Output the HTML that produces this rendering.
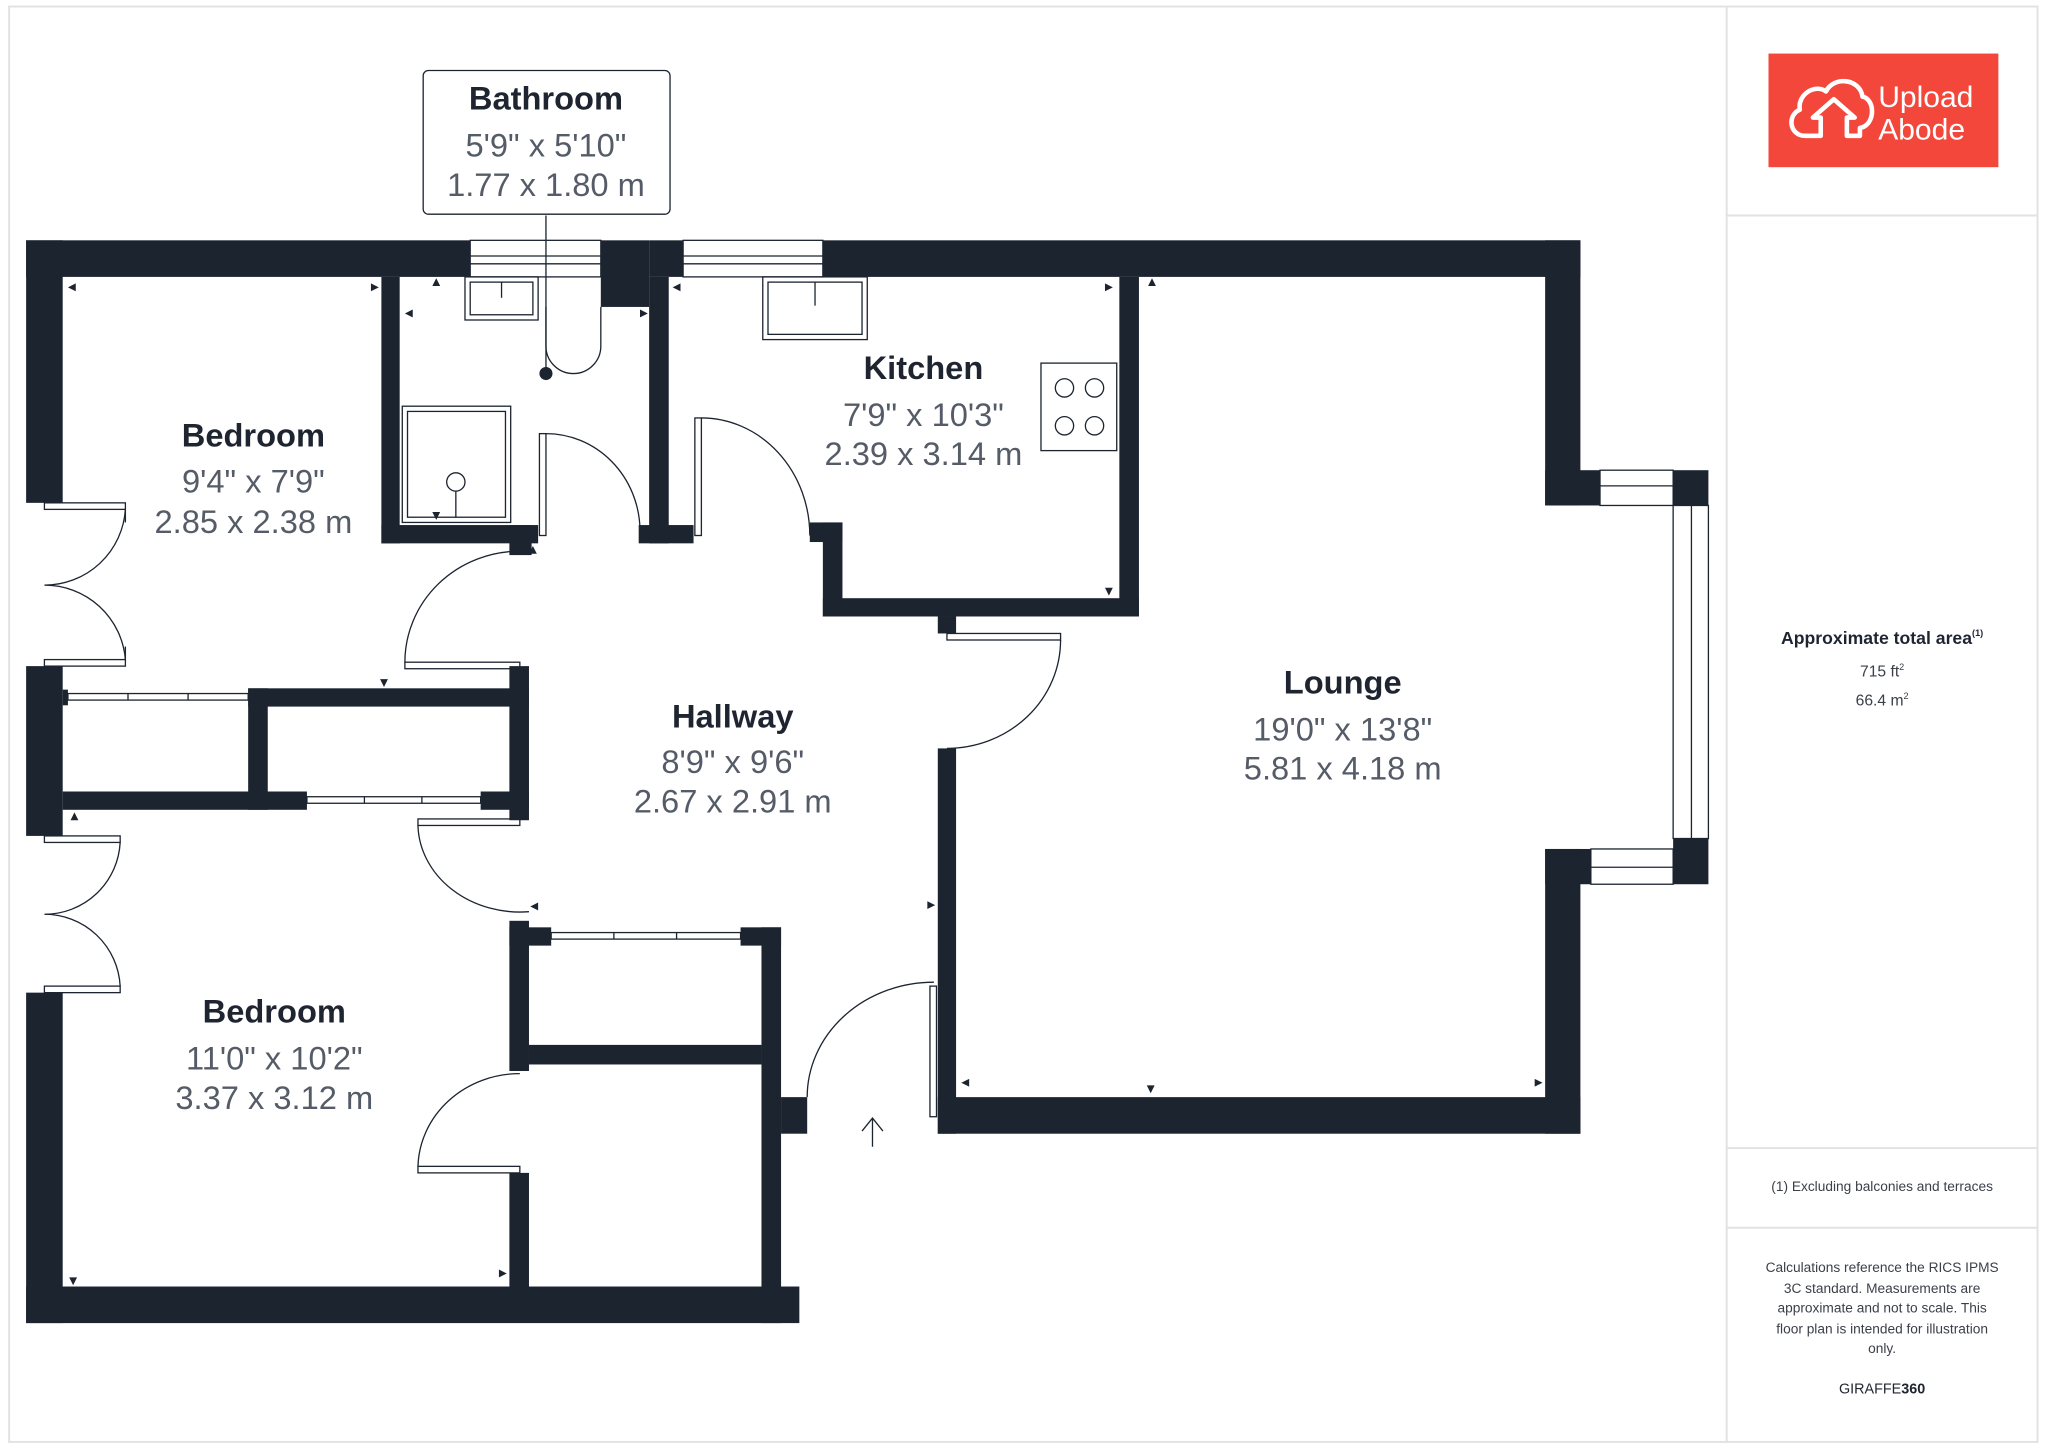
<!DOCTYPE html>
<html><head><meta charset="utf-8"><style>
html,body{margin:0;padding:0;background:#fff;width:2048px;height:1449px;overflow:hidden}
svg{display:block}
text{font-family:"Liberation Sans",sans-serif}
</style></head><body>
<svg width="2048" height="1449" viewBox="0 0 1568 1109.4" preserveAspectRatio="none" xmlns="http://www.w3.org/2000/svg">
<rect x="0" y="0" width="1568" height="1110" fill="#fff"/>
<rect x="7" y="5" width="1553" height="1099" fill="none" stroke="#e2e2e2" stroke-width="1.5"/>
<line x1="1322" y1="5" x2="1322" y2="1104" stroke="#e2e2e2" stroke-width="1.5"/>
<line x1="1322" y1="165" x2="1560" y2="165" stroke="#e2e2e2" stroke-width="1.5"/>
<line x1="1322" y1="879" x2="1560" y2="879" stroke="#e2e2e2" stroke-width="1.5"/>
<line x1="1322" y1="940" x2="1560" y2="940" stroke="#e2e2e2" stroke-width="1.5"/>

<!-- logo -->
<rect x="1354" y="41" width="176" height="87" fill="#f4473b"/>
<path d="M1382 104 C1370 104 1368 88 1378 84 C1376 72 1390 64 1398 70 C1404 58 1424 60 1426 74 C1436 76 1436 96 1424 98 L1424 104 L1414 104 L1414 90 L1420 90 L1404 76 L1388 90 L1394 90 L1394 104 Z" fill="none" stroke="#fff" stroke-width="3.5" stroke-linejoin="round"/>
<text x="1438" y="82" font-size="23" fill="#fff">Upload</text>
<text x="1438" y="107" font-size="23" fill="#fff" font-family="Liberation Serif,serif">Abode</text>

<!-- right panel text -->
<text x="1441" y="493" font-size="13.5" font-weight="bold" fill="#1f2530" text-anchor="middle">Approximate total area<tspan font-size="7" dy="-6">(1)</tspan></text>
<text x="1441" y="518" font-size="12" fill="#3a3f48" text-anchor="middle">715 ft<tspan font-size="7" dy="-5">2</tspan></text>
<text x="1441" y="540" font-size="12" fill="#3a3f48" text-anchor="middle">66.4 m<tspan font-size="7" dy="-5">2</tspan></text>
<text x="1441" y="912" font-size="10.5" fill="#3a3f48" text-anchor="middle">(1) Excluding balconies and terraces</text>
<g font-size="10.5" fill="#3a3f48" text-anchor="middle">
<text x="1441" y="974">Calculations reference the RICS IPMS</text>
<text x="1441" y="990">3C standard. Measurements are</text>
<text x="1441" y="1005">approximate and not to scale. This</text>
<text x="1441" y="1021">floor plan is intended for illustration</text>
<text x="1441" y="1036">only.</text>
</g>
<text x="1441" y="1067" font-size="11" fill="#1f2530" text-anchor="middle">GIRAFFE<tspan font-weight="bold">360</tspan></text>

<!-- walls -->
<g fill="#1c2430">
<rect x="20" y="184" width="340" height="28"/>
<rect x="460" y="184" width="37" height="51"/>
<rect x="497" y="184" width="26" height="28"/>
<rect x="630" y="184" width="580" height="28"/>
<rect x="20" y="184" width="28" height="201"/>
<rect x="20" y="510" width="28" height="130"/>
<rect x="20" y="760" width="28" height="253"/>
<rect x="20" y="985" width="592" height="28"/>
<rect x="292" y="212" width="14" height="204"/>
<rect x="292" y="402" width="120" height="14"/>
<rect x="390" y="402" width="17" height="23"/>
<rect x="497" y="212" width="15" height="204"/>
<rect x="489" y="402" width="42" height="14"/>
<rect x="620" y="400" width="25" height="15"/>
<rect x="630" y="400" width="15" height="72"/>
<rect x="630" y="458" width="242" height="14"/>
<rect x="857" y="212" width="15" height="260"/>
<rect x="718" y="472" width="14" height="13"/>
<rect x="718" y="573" width="14" height="295"/>
<rect x="718" y="840" width="492" height="28"/>
<rect x="1183" y="184" width="27" height="203"/>
<rect x="1183" y="360" width="42" height="27"/>
<rect x="1281" y="360" width="27" height="27"/>
<rect x="1281" y="642" width="27" height="35"/>
<rect x="1183" y="650" width="27" height="218"/>
<rect x="1183" y="650" width="35" height="27"/>
<rect x="190" y="527" width="215" height="14"/>
<rect x="190" y="527" width="15" height="93"/>
<rect x="48" y="606" width="187" height="14"/>
<rect x="368" y="606" width="37" height="14"/>
<rect x="390" y="510" width="15" height="118"/>
<rect x="48" y="528" width="4" height="12"/>
<rect x="390" y="705" width="15" height="115"/>
<rect x="390" y="710" width="32" height="14"/>
<rect x="567" y="710" width="31" height="14"/>
<rect x="583" y="710" width="15" height="303"/>
<rect x="405" y="800" width="178" height="15"/>
<rect x="390" y="898" width="15" height="100"/>
<rect x="598" y="840" width="20" height="28"/>
</g>

<!-- windows -->
<g fill="#fff" stroke="#1c2430" stroke-width="1">
<rect x="360" y="184" width="100" height="28"/>
<rect x="523" y="184" width="107" height="28"/>
<rect x="1225" y="360" width="56" height="27"/>
<rect x="1281" y="387" width="27" height="255"/>
<rect x="1218" y="650" width="63" height="27"/>
</g>
<g stroke="#1c2430" stroke-width="1" fill="none">
<line x1="360" y1="196" x2="460" y2="196"/><line x1="360" y1="202" x2="460" y2="202"/>
<line x1="523" y1="196" x2="630" y2="196"/><line x1="523" y1="202" x2="630" y2="202"/>
<line x1="1225" y1="372" x2="1281" y2="372"/>
<line x1="1295" y1="387" x2="1295" y2="642"/>
<line x1="1218" y1="664" x2="1281" y2="664"/>
<rect x="52" y="531" width="138" height="5"/>
<line x1="98" y1="531" x2="98" y2="536"/><line x1="144" y1="531" x2="144" y2="536"/>
<rect x="235" y="610" width="133" height="5"/>
<line x1="279" y1="610" x2="279" y2="615"/><line x1="323" y1="610" x2="323" y2="615"/>
<rect x="422" y="714" width="145" height="5"/>
<line x1="470" y1="714" x2="470" y2="719"/><line x1="518" y1="714" x2="518" y2="719"/>

<rect x="34" y="385" width="62" height="5"/>
<rect x="34" y="505" width="62" height="5"/>
<path d="M96 390 A62 62 0 0 1 34 448 M96 505 A62 62 0 0 0 34 448"/>
<line x1="96" y1="390" x2="96" y2="400"/><line x1="96" y1="505" x2="96" y2="495"/>
<rect x="34" y="640" width="58" height="5"/>
<rect x="34" y="755" width="58" height="5"/>
<path d="M92 645 A58 58 0 0 1 34 700 M92 755 A58 58 0 0 0 34 700"/>
<rect x="310" y="507" width="88" height="5"/>
<path d="M310 507 A88 85 0 0 1 398 422"/>
<rect x="320" y="627" width="78" height="5"/>
<path d="M320 632 A78 68 0 0 0 405 698"/>
<rect x="320" y="893" width="78" height="5"/>
<path d="M320 893 A78 73 0 0 1 398 822"/>
<rect x="413" y="332" width="5" height="78"/>
<path d="M418 332 A72 75 0 0 1 490 405"/>
<rect x="532" y="320" width="5" height="90"/>
<path d="M537 320 A83 90 0 0 1 620 410"/>
<rect x="725" y="485" width="87" height="5"/>
<path d="M812 490 A87 83 0 0 1 725 573"/>
<rect x="712" y="755" width="5" height="100"/>
<path d="M618 840 A97 88 0 0 1 715 752"/>

<rect x="356" y="212" width="56" height="33"/><rect x="360" y="216" width="48" height="25"/>
<line x1="384" y1="216" x2="384" y2="228"/>
<path d="M418 235 L418 265 A21 21 0 0 0 460 265 L460 235"/>
<rect x="308" y="311" width="83" height="89"/><rect x="312" y="315" width="75" height="81"/>
<circle cx="349" cy="369" r="7"/><line x1="349" y1="376" x2="349" y2="396"/>
<line x1="418" y1="165" x2="418" y2="286"/>
<rect x="584" y="212" width="80" height="48"/><rect x="588" y="216" width="72" height="40"/>
<line x1="624" y1="216" x2="624" y2="234"/>
<rect x="797" y="278" width="58" height="67"/>
<circle cx="815" cy="297" r="7"/><circle cx="838" cy="297" r="7"/>
<circle cx="815" cy="326" r="7"/><circle cx="838" cy="326" r="7"/>
<path d="M668 878 L668 856 M660 866 L668 856 L676 866"/>
</g>
<circle cx="418" cy="286" r="5" fill="#1c2430"/>

<g fill="#1c2430">
<path d="M52 220 l6 -3 v6z"/><path d="M290 220 l-6 -3 v6z"/><path d="M334 213 l-3 6 h6z"/>
<path d="M310 240 l6 -3 v6z"/><path d="M496 240 l-6 -3 v6z"/><path d="M515 220 l6 -3 v6z"/>
<path d="M852 220 l-6 -3 v6z"/><path d="M882 213 l-3 6 h6z"/><path d="M849 456 l-3 -6 h6z"/>
<path d="M334 398 l-3 -6 h6z"/><path d="M408 418 l-3 6 h6z"/><path d="M294 526 l-3 -6 h6z"/>
<path d="M57 622 l-3 6 h6z"/><path d="M406 694 l6 -3 v6z"/><path d="M716 693 l-6 -3 v6z"/>
<path d="M736 829 l6 -3 v6z"/><path d="M881 837 l-3 -6 h6z"/><path d="M1181 829 l-6 -3 v6z"/>
<path d="M56 984 l-3 -6 h6z"/><path d="M388 975 l-6 -3 v6z"/>
</g>

<rect x="324" y="54" width="189" height="110" rx="4" fill="#fff" stroke="#1c2430" stroke-width="1"/>

<g text-anchor="middle">
<g font-size="25" font-weight="bold" fill="#1f2530">
<text x="418" y="84">Bathroom</text>
<text x="707" y="290">Kitchen</text>
<text x="194" y="342">Bedroom</text>
<text x="561" y="557">Hallway</text>
<text x="1028" y="531">Lounge</text>
<text x="210" y="783">Bedroom</text>
</g>
<g font-size="25" fill="#555c68">
<text x="418" y="120">5'9" x 5'10"</text><text x="418" y="150">1.77 x 1.80 m</text>
<text x="707" y="326">7'9" x 10'3"</text><text x="707" y="356">2.39 x 3.14 m</text>
<text x="194" y="377">9'4" x 7'9"</text><text x="194" y="408">2.85 x 2.38 m</text>
<text x="561" y="592">8'9" x 9'6"</text><text x="561" y="622">2.67 x 2.91 m</text>
<text x="1028" y="567">19'0" x 13'8"</text><text x="1028" y="597">5.81 x 4.18 m</text>
<text x="210" y="819">11'0" x 10'2"</text><text x="210" y="849">3.37 x 3.12 m</text>
</g>
</g>
</svg>
</body></html>
